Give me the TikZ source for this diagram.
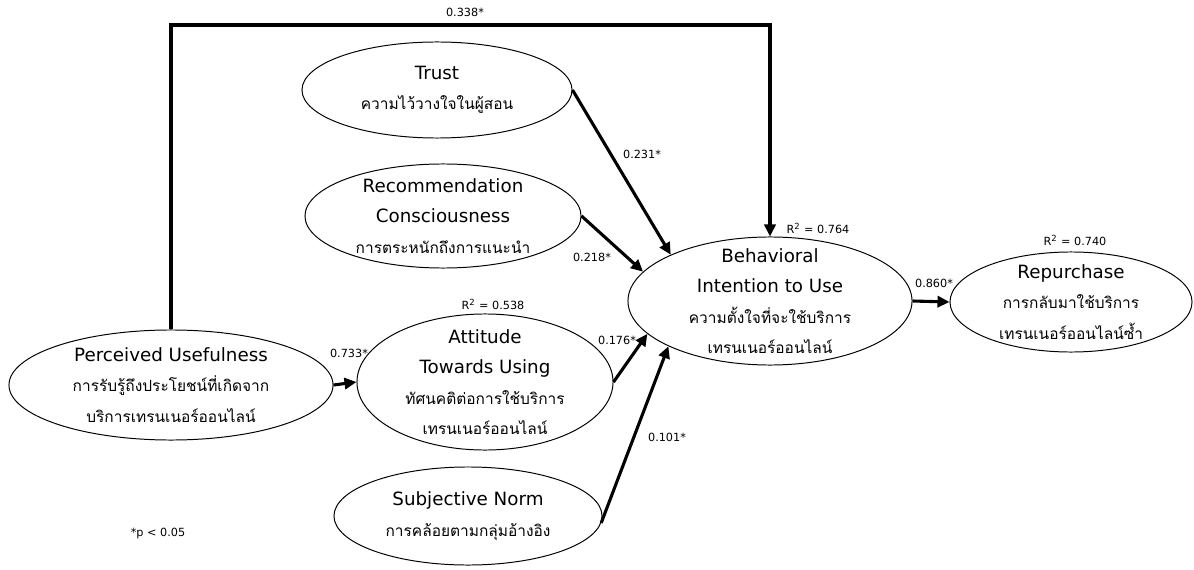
\documentclass[tikz,border=0pt]{standalone}
\usepackage{fontspec}
\setmainfont{DejaVu Sans}
\newfontfamily\thaifont[Script=Thai]{Loma}
\usetikzlibrary{arrows.meta, shapes.geometric}
\newcommand{\thtxt}[1]{{\thaifont\fontsize{11}{21.5}\selectfont #1}}

\begin{document}
\begin{tikzpicture}[x=0.025cm, y=-0.025cm, >={Triangle[length=3mm, width=2.8mm]},
  construct/.style={ellipse, draw, line width=0.7pt, inner sep=0pt},
  ctext/.style={align=center, inner sep=0pt, font=\fontsize{13}{21.5}\selectfont},
  effect/.style={->, line width=2.2pt},
  coef/.style={font=\fontsize{8}{9}\selectfont, inner sep=1pt}]

\useasboundingbox (0,0) rectangle (1194,570);

% Constructs
\node[construct, minimum width=8.1cm, minimum height=2.75cm] (pu) at (171,385) {};
\node[ctext] (putext) at (pu)
  {Perceived Usefulness\\\thtxt{การรับรู้ถึงประโยชน์ที่เกิดจาก}\\\thtxt{บริการเทรนเนอร์ออนไลน์}};
\node[construct, minimum width=6.75cm, minimum height=2.4cm] (trust) at (437,90) {};
\node[ctext] (trusttext) at (trust)
  {Trust\\\thtxt{ความไว้วางใจในผู้สอน}};
\node[construct, minimum width=6.9cm, minimum height=2.6cm] (rec) at (443,216) {};
\node[ctext] (rectext) at (rec)
  {Recommendation\\Consciousness\\\thtxt{การตระหนักถึงการแนะนำ}};
\node[construct, minimum width=6.4cm, minimum height=3.4cm] (att) at (485,382) {};
\node[ctext] (atttext) at (att)
  {Attitude\\Towards Using\\\thtxt{ทัศนคติต่อการใช้บริการ}\\\thtxt{เทรนเนอร์ออนไลน์}};
\node[construct, minimum width=6.7cm, minimum height=2.45cm] (sn) at (468,516) {};
\node[ctext] (sntext) at (sn)
  {Subjective Norm\\\thtxt{การคล้อยตามกลุ่มอ้างอิง}};
\node[construct, minimum width=7.1cm, minimum height=3.2cm] (bi) at (770,301) {};
\node[ctext] (bitext) at (bi)
  {Behavioral\\Intention to Use\\\thtxt{ความตั้งใจที่จะใช้บริการ}\\\thtxt{เทรนเนอร์ออนไลน์}};
\node[construct, minimum width=6.05cm, minimum height=2.5cm] (rep) at (1071,302) {};
\node[ctext] (reptext) at (rep)
  {Repurchase\\\thtxt{การกลับมาใช้บริการ}\\\thtxt{เทรนเนอร์ออนไลน์ซ้ำ}};

% Paths
\coordinate (topbend) at (470,25);
\draw[effect] (pu.north) |- (topbend) -| (bi.north);
\draw[effect] (trust.east) -- (bi.155.5);
\draw[effect] (rec.east) -- (bi.167);
\draw[effect] (att.east) -- (bi.195.5);
\draw[effect] (sn.-3) -- (bi.204.7);
\draw[effect] (pu.east) -- (att.west);
\draw[effect] (bi.east) -- (rep.west);

% Coefficients
\node[coef] (c338) at (465,12) {0.338*};
\node[coef] (c231) at (642,154) {0.231*};
\node[coef] (c218) at (592,257) {0.218*};
\node[coef] (c176) at (617,340) {0.176*};
\node[coef] (c101) at (667,437) {0.101*};
\node[coef] (c733) at (349,353) {0.733*};
\node[coef] (c860) at (934,283) {0.860*};

% R squared
\node[coef] (rbi) at (818,228) {R\textsuperscript{2} = 0.764};
\node[coef] (ratt) at (493,304) {R\textsuperscript{2} = 0.538};
\node[coef] (rrep) at (1075,240) {R\textsuperscript{2} = 0.740};

% Note
\node[coef] (note) at (158,533) {*p < 0.05};

\end{tikzpicture}
\end{document}
